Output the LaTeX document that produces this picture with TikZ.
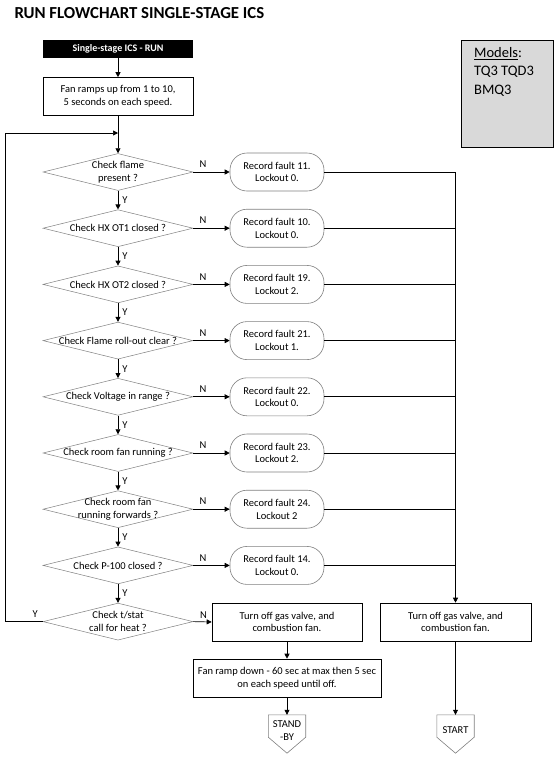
\documentclass[tikz,border=0pt]{standalone}
\usepackage{fontspec}
\setmainfont{Carlito}
\usetikzlibrary{shapes.geometric,arrows.meta,calc}
\definecolor{edge}{HTML}{7F7F7F}
\definecolor{panel}{HTML}{D9D9D9}

\begin{document}
\begin{tikzpicture}[x=1pt,y=-1pt,
  every node/.style={font=\fontsize{10.5}{12.6}\selectfont},
  decide/.style={diamond,draw=edge,line width=0.5pt,minimum width=150pt,minimum height=37pt,inner sep=0pt},
  dtext/.style={align=center,inner sep=0pt},
  fault/.style={draw=edge,line width=0.6pt,rounded corners=17pt,minimum width=94pt,minimum height=38pt,align=center,inner sep=2pt},
  proc/.style={draw,line width=0.6pt,minimum height=38pt,align=center,inner sep=2pt},
  offpage/.style={minimum width=37pt,minimum height=31pt,inner sep=0pt,align=center},
  flow/.style={line width=0.7pt,-{Triangle[length=5pt,width=5pt]}},
  link/.style={line width=0.7pt},
  yn/.style={inner sep=1pt}]
  \useasboundingbox (0,0) rectangle (557,764);
  % title and models panel
  \node[anchor=west,font=\fontsize{16.8}{20}\selectfont\bfseries] (title) at (11,13) {RUN FLOWCHART SINGLE-STAGE ICS};
  \node[draw,fill=panel,line width=0.6pt,minimum width=92pt,minimum height=107pt,anchor=north west] (models) at (461,40) {};
  \node[anchor=north west,inner sep=0pt,align=left,font=\fontsize{14.5}{18.5}\selectfont] (modtext) at (474,47) {\underline{Models}:\\TQ3 TQD3\\BMQ3};
  % start of run
  \node[fill=black,text=white,font=\fontsize{10}{12}\selectfont\bfseries,minimum width=150pt,minimum height=18pt,inner sep=0pt] (run) at (118,49) {Single-stage ICS - RUN};
  \node[proc,minimum width=150pt] (ramp) at (118,96.5) {Fan ramps up from 1 to 10,\\5 seconds on each speed.};
  \coordinate (join) at (118,133);
  \coordinate (loop) at (5,133);
  % checks, faults on the right
  \node[decide] (c1) at (118,172) {};
  \node[dtext] (c1t) at (c1) {Check flame\\present ?};
  \node[fault] (f1) at (277,172) {Record fault 11.\\Lockout 0.};
  \node[decide] (c2) at (118,228.2) {};
  \node[dtext] (c2t) at (c2) {Check HX OT1 closed ?};
  \node[fault] (f2) at (277,228.2) {Record fault 10.\\Lockout 0.};
  \node[decide] (c3) at (118,284.4) {};
  \node[dtext] (c3t) at (c3) {Check HX OT2 closed ?};
  \node[fault] (f3) at (277,284.4) {Record fault 19.\\Lockout 2.};
  \node[decide] (c4) at (118,340.6) {};
  \node[dtext] (c4t) at (c4) {Check Flame roll-out clear ?};
  \node[fault] (f4) at (277,340.6) {Record fault 21.\\Lockout 1.};
  \node[decide] (c5) at (118,396.8) {};
  \node[dtext] (c5t) at (c5) {Check Voltage in range ?};
  \node[fault] (f5) at (277,396.8) {Record fault 22.\\Lockout 0.};
  \node[decide] (c6) at (118,453) {};
  \node[dtext] (c6t) at (c6) {Check room fan running ?};
  \node[fault] (f6) at (277,453) {Record fault 23.\\Lockout 2.};
  \node[decide] (c7) at (118,509.2) {};
  \node[dtext] (c7t) at (c7) {Check room fan\\running forwards ?};
  \node[fault] (f7) at (277,509.2) {Record fault 24.\\Lockout 2};
  \node[decide] (c8) at (118,565.4) {};
  \node[dtext] (c8t) at (c8) {Check P-100 closed ?};
  \node[fault] (f8) at (277,565.4) {Record fault 14.\\Lockout 0.};
  % call for heat
  \node[decide] (c9) at (118,621.6) {};
  \node[dtext] (c9t) at (c9) {Check t/stat\\call for heat ?};
  \node[proc,minimum width=150pt] (off) at (287,622) {Turn off gas valve, and\\combustion fan.};
  \node[proc,minimum width=188pt] (down) at (287,678) {Fan ramp down - 60 sec at max then 5 sec\\on each speed until off.};
  \node[offpage] (stby) at (287,730.5) {STAND\\-BY};
  \node[proc,minimum width=151pt] (stop) at (455.5,622) {Turn off gas valve, and\\combustion fan.};
  \node[offpage] (start) at (455.5,730.5) {START};
  \draw[draw=edge,line width=0.6pt] (stby.north west) -- ($(stby.south west)+(0,-9)$) -- ($(stby.south)+(0,7)$) -- ($(stby.south east)+(0,-9)$) -- (stby.north east) -- cycle;
  \draw[draw=edge,line width=0.6pt] (start.north west) -- ($(start.south west)+(0,-9)$) -- ($(start.south)+(0,7)$) -- ($(start.south east)+(0,-9)$) -- (start.north east) -- cycle;
  % main flow
  \draw[flow] (run.south) -- (ramp.north);
  \draw[flow] (ramp.south) -- (c1.north);
  \draw[flow] (c1.south) -- node[yn,right=3pt]{Y} (c2.north);
  \draw[flow] (c2.south) -- node[yn,right=3pt]{Y} (c3.north);
  \draw[flow] (c3.south) -- node[yn,right=3pt]{Y} (c4.north);
  \draw[flow] (c4.south) -- node[yn,right=3pt]{Y} (c5.north);
  \draw[flow] (c5.south) -- node[yn,right=3pt]{Y} (c6.north);
  \draw[flow] (c6.south) -- node[yn,right=3pt]{Y} (c7.north);
  \draw[flow] (c7.south) -- node[yn,right=3pt]{Y} (c8.north);
  \draw[flow] (c8.south) -- node[yn,right=3pt]{Y} (c9.north);
  % N branches
  \draw[flow] (c1.east) -- node[yn,above=3pt,pos=0.27]{N} (f1.west);
  \draw[flow] (c2.east) -- node[yn,above=3pt,pos=0.27]{N} (f2.west);
  \draw[flow] (c3.east) -- node[yn,above=3pt,pos=0.27]{N} (f3.west);
  \draw[flow] (c4.east) -- node[yn,above=3pt,pos=0.27]{N} (f4.west);
  \draw[flow] (c5.east) -- node[yn,above=3pt,pos=0.27]{N} (f5.west);
  \draw[flow] (c6.east) -- node[yn,above=3pt,pos=0.27]{N} (f6.west);
  \draw[flow] (c7.east) -- node[yn,above=3pt,pos=0.27]{N} (f7.west);
  \draw[flow] (c8.east) -- node[yn,above=3pt,pos=0.27]{N} (f8.west);
  % faults to lockout
  \draw[flow] (f1.east) -| (stop.north);
  \draw[link] (f2.east) -- (f2.east -| stop.north);
  \draw[link] (f3.east) -- (f3.east -| stop.north);
  \draw[link] (f4.east) -- (f4.east -| stop.north);
  \draw[link] (f5.east) -- (f5.east -| stop.north);
  \draw[link] (f6.east) -- (f6.east -| stop.north);
  \draw[link] (f7.east) -- (f7.east -| stop.north);
  \draw[link] (f8.east) -- (f8.east -| stop.north);
  \draw[flow] (stop.south) -- (start.north);
  % heat call
  \draw[flow] (c9.west) -- node[yn,above=3pt,pos=0.2]{Y} (c9.west -| loop) -- (loop) -- (join);
  \draw[flow] (c9.east) -- node[yn,above=2pt,pos=0.55]{N} (off.west);
  \draw[flow] (off.south) -- (down.north);
  \draw[flow] (down.south) -- (stby.north);
\end{tikzpicture}
\end{document}
